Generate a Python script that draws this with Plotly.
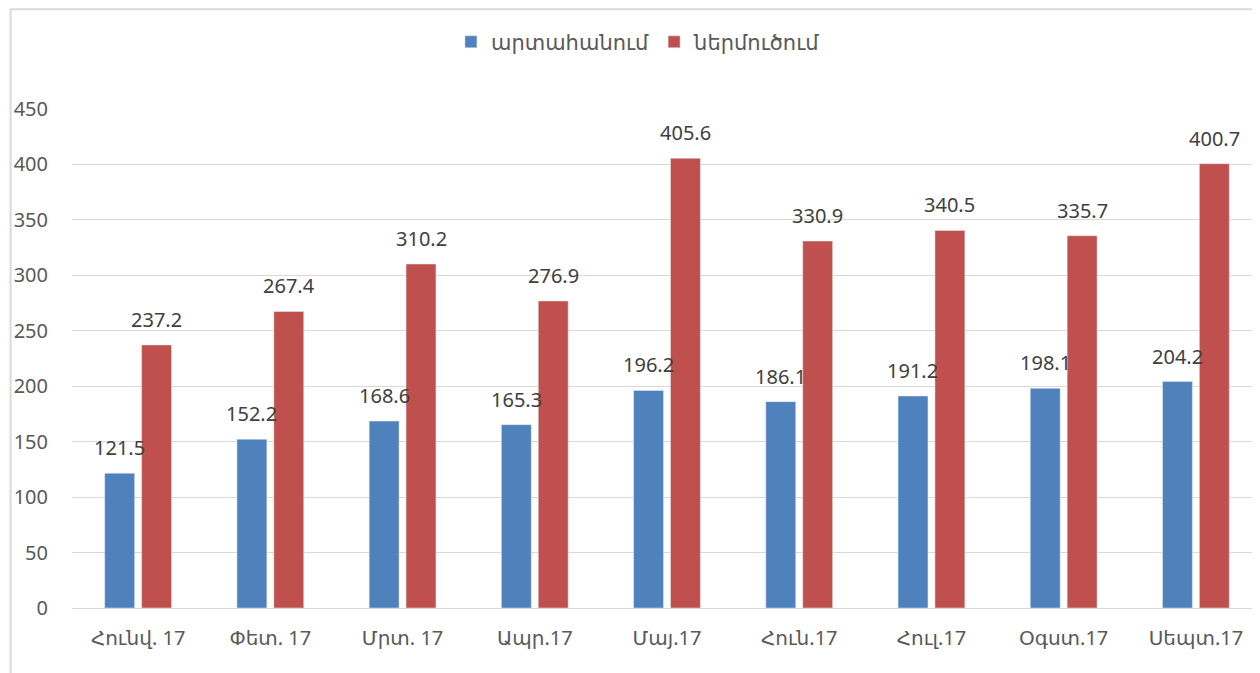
import plotly.graph_objects as go

# Ամսական տվյալներ (մլն ԱՄՆ դոլար)
months = ["Հունվ. 17", "Փետ. 17", "Մրտ. 17", "Ապր.17", "Մայ.17",
          "Հուն.17", "Հուլ.17", "Օգստ.17", "Սեպտ.17"]
export_vals = [121.5, 152.2, 168.6, 165.3, 196.2, 186.1, 191.2, 198.1, 204.2]
import_vals = [237.2, 267.4, 310.2, 276.9, 405.6, 330.9, 340.5, 335.7, 400.7]

COLORS = {
    'export': '#4f81bd',
    'import': '#c0504d',
}
FONT = "Noto Sans, DejaVu Sans, sans-serif"

fig = go.Figure()

fig.add_trace(go.Bar(
    x=months,
    y=export_vals,
    name="արտահանում",
    marker=dict(color=COLORS['export']),
    cliponaxis=False,
))

fig.add_trace(go.Bar(
    x=months,
    y=import_vals,
    name="ներմուծում",
    marker=dict(color=COLORS['import']),
    cliponaxis=False,
))

# արժեքների պիտակներ սյուների վերևում
for vals, shift in [(export_vals, -18.5), (import_vals, 18.5)]:
    for m, v in zip(months, vals):
        fig.add_annotation(
            x=m, y=v, text=f"{v:.1f}",
            xshift=shift, yshift=10,
            yanchor="bottom", showarrow=False,
            font=dict(size=20, color='#404040'),
        )

# շրջանակ
fig.add_shape(
    type="rect", xref="paper", yref="paper",
    x0=-0.0516, x1=1.05, y0=-0.3, y1=1.2,
    line=dict(color='#d9d9d9', width=2),
    layer="below",
)

fig.update_layout(
    width=1260,
    height=673,
    paper_bgcolor="white",
    plot_bgcolor="white",
    font=dict(family=FONT, size=20, color='#595959'),
    barmode='group',
    bargap=0.442,
    bargroupgap=0.189,
    margin=dict(l=62, r=6, t=101, b=73),
    showlegend=True,
    legend=dict(
        orientation="h",
        x=0.476,
        xanchor="center",
        y=1.134,
        yanchor="middle",
        font=dict(size=21, color='#595959'),
        itemwidth=30,
        traceorder="normal",
    ),
    xaxis=dict(
        showgrid=False,
        showline=True,
        linecolor='#d9d9d9',
        linewidth=1,
        tickfont=dict(size=20, color='#595959'),
        ticks="",
        ticklabelstandoff=12,
    ),
    yaxis=dict(
        range=[0, 450],
        dtick=50,
        showgrid=True,
        gridcolor='#d9d9d9',
        gridwidth=1,
        zeroline=False,
        tickfont=dict(size=20, color='#595959'),
        ticklabelstandoff=23,
    ),
)

fig.write_html("out.html")
